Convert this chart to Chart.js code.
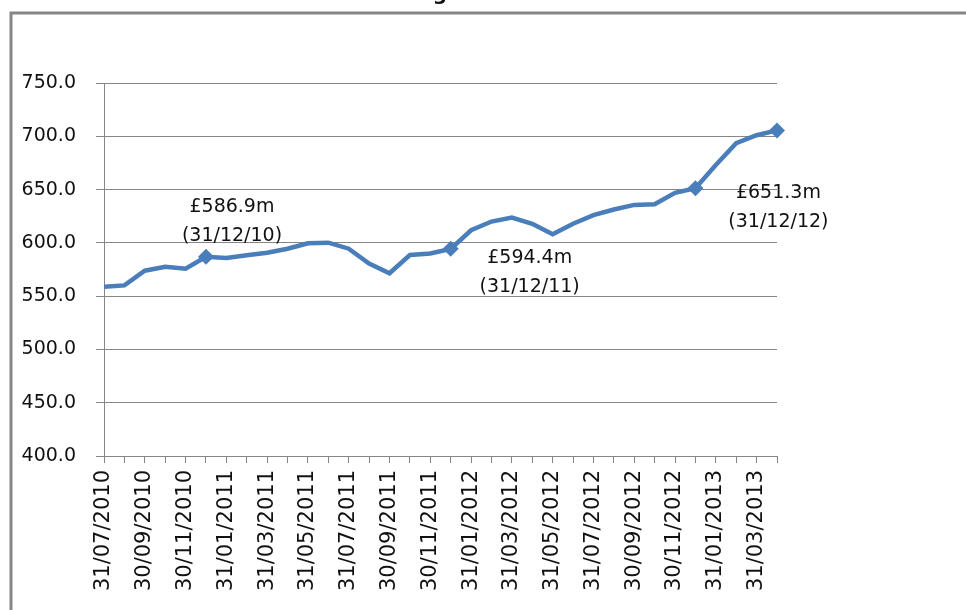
<!DOCTYPE html>
<html>
<head>
<meta charset="utf-8">
<script src="https://cdn.jsdelivr.net/npm/chart.js@4"></script>
<style>
  html, body { margin: 0; padding: 0; background: #fff; }
  #wrap { position: relative; width: 966px; height: 610px; }
</style>
</head>
<body>
<div id="wrap"><canvas id="chart" width="966" height="610"></canvas></div>
<script>
// month-end dates on the x axis
var dates = ['31/07/2010', '31/08/2010', '30/09/2010', '31/10/2010', '30/11/2010', '31/12/2010',
    '31/01/2011', '28/02/2011', '31/03/2011', '30/04/2011', '31/05/2011', '30/06/2011',
    '31/07/2011', '31/08/2011', '30/09/2011', '31/10/2011', '30/11/2011', '31/12/2011',
    '31/01/2012', '29/02/2012', '31/03/2012', '30/04/2012', '31/05/2012', '30/06/2012',
    '31/07/2012', '31/08/2012', '30/09/2012', '31/10/2012', '30/11/2012', '31/12/2012',
    '31/01/2013', '28/02/2013', '31/03/2013', '30/04/2013'];

// values in £m
var values = [558.9, 560.1, 573.9, 577.6, 575.8, 586.9,
    585.8, 588.3, 590.8, 594.5, 599.6, 600.2,
    594.5, 580.5, 571.5, 588.6, 590.0, 594.4,
    611.8, 620.0, 623.7, 617.9, 608.0, 618.0,
    626.0, 631.3, 635.6, 636.3, 647.0, 651.3,
    673.0, 693.5, 701.0, 705.5];

// y axis ticks
var yTicks = [400, 450, 500, 550, 600, 650, 700, 750];

// points with a marker, and the ones with a note
var markerIndex = [5, 17, 29, 33];
var noteIndex = [5, 17, 29];
var noteValue = ['£586.9m', '£594.4m', '£651.3m'];
var noteDate = ['(31/12/10)', '(31/12/11)', '(31/12/12)'];

var lineColor = '#4a7ebb';
var gridColor = '#868686';
var font = 'DejaVu Sans';

// frame round the chart and the clipped title
var framePlugin = {
    id: 'frame',
    beforeDraw: function (chart) {
        var ctx = chart.ctx;
        ctx.save();
        ctx.strokeStyle = gridColor;
        ctx.lineWidth = 3;
        ctx.beginPath();
        ctx.moveTo(11, 612);
        ctx.lineTo(11, 13);
        ctx.lineTo(970, 13);
        ctx.stroke();
        ctx.fillStyle = '#111';
        ctx.font = 'bold 20px ' + font;
        ctx.textAlign = 'center';
        ctx.textBaseline = 'alphabetic';
        ctx.fillText('g', 440, 0);
        ctx.restore();
    }
};

// notes beside the marked points
var noteOffsets = [[26, -50], [79, 9], [83, 5]];
var notePlugin = {
    id: 'notes',
    afterDatasetsDraw: function (chart) {
        var ctx = chart.ctx;
        var meta = chart.getDatasetMeta(0);
        ctx.save();
        ctx.fillStyle = '#111';
        ctx.font = '19px ' + font;
        ctx.textAlign = 'center';
        ctx.textBaseline = 'middle';
        noteIndex.forEach(function (idx, k) {
            var pt = meta.data[idx];
            var x = pt.x + noteOffsets[k][0];
            var y = pt.y + noteOffsets[k][1];
            ctx.fillText(noteValue[k], x, y);
            ctx.fillText(noteDate[k], x, y + 29);
        });
        ctx.restore();
    }
};

var ctx = document.getElementById('chart').getContext('2d');
var myChart = new Chart(ctx, {
    type: 'line',
    data: {
        labels: dates,
        datasets: [{
            data: values,
            borderColor: lineColor,
            backgroundColor: lineColor,
            borderWidth: 4.5,
            tension: 0,
            fill: false,
            pointStyle: 'rectRot',
            pointRadius: values.map(function (v, i) { return markerIndex.indexOf(i) >= 0 ? 8 : 0; }),
            pointBorderWidth: 0,
            pointHoverRadius: 0
        }]
    },
    options: {
        responsive: false,
        animation: false,
        events: [],
        layout: { padding: { left: 0, right: 189, top: 83, bottom: 0 } },
        plugins: { legend: { display: false }, tooltip: { enabled: false }, title: { display: false } },
        scales: {
            x: {
                type: 'category',
                offset: false,
                grid: { drawOnChartArea: false, drawTicks: true, tickLength: 7, color: gridColor },
                border: { color: gridColor, width: 1 },
                ticks: {
                    autoSkip: false,
                    minRotation: 90,
                    maxRotation: 90,
                    padding: 7,
                    color: '#111',
                    font: { family: font, size: 21 },
                    callback: function (v, i) { return i % 2 === 0 ? dates[i] : ''; }
                },
                afterFit: function (scale) { scale.height = 154; }
            },
            y: {
                min: yTicks[0],
                max: yTicks[yTicks.length - 1],
                afterBuildTicks: function (scale) {
                    scale.ticks = yTicks.map(function (v) { return { value: v }; });
                },
                grid: { color: gridColor, lineWidth: 1, tickLength: 8 },
                border: { color: gridColor, width: 1 },
                ticks: {
                    padding: 20,
                    color: '#111',
                    font: { family: font, size: 19 },
                    callback: function (v) { return Number(v).toFixed(1); }
                },
                afterFit: function (scale) { scale.width = 104; }
            }
        }
    },
    plugins: [framePlugin, notePlugin]
});
</script>
</body>
</html>
